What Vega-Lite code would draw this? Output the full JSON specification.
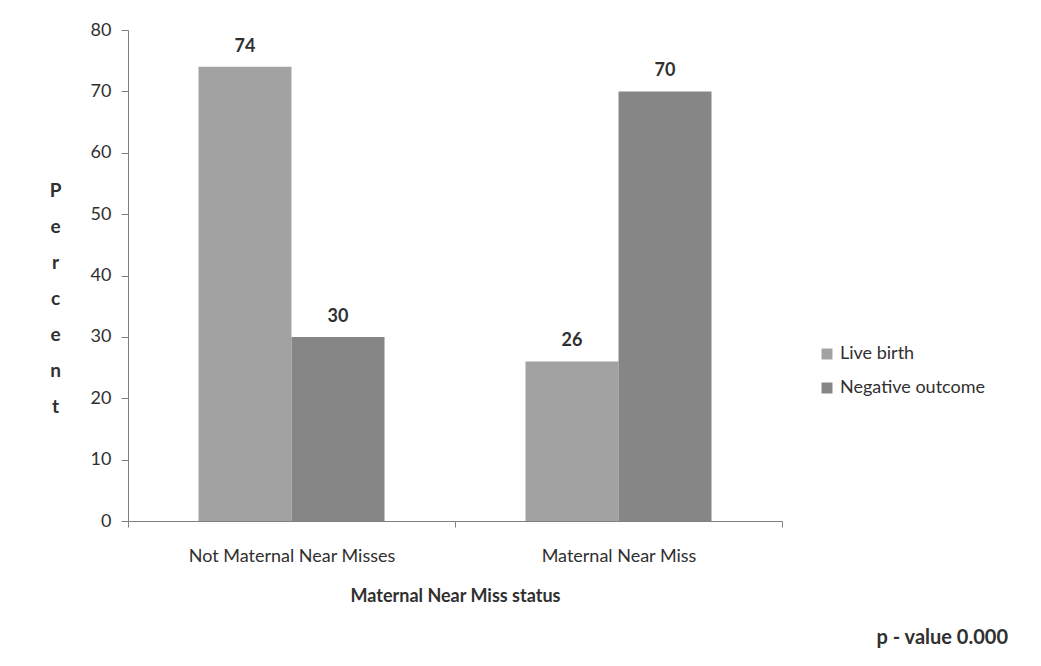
{
  "$schema": "https://vega.github.io/schema/vega-lite/v6.json",
  "autosize": "none",
  "width": 654,
  "height": 491,
  "padding": {"left": 128, "top": 30, "right": 259, "bottom": 145},
  "background": "#ffffff",
  "config": {
    "view": {"stroke": null},
    "font": "Lato",
    "text": {"font": "Lato"}
  },
  "title": {
    "text": "p - value 0.000",
    "orient": "bottom",
    "anchor": "end",
    "frame": "group",
    "dx": 226,
    "offset": 23,
    "font": "Lato",
    "fontSize": 20,
    "fontWeight": "bold",
    "color": "#303030"
  },
  "data": {
    "values": [
      {"status": "Not Maternal Near Misses", "outcome": "Live birth", "percent": 74},
      {"status": "Not Maternal Near Misses", "outcome": "Negative outcome", "percent": 30},
      {"status": "Maternal Near Miss", "outcome": "Live birth", "percent": 26},
      {"status": "Maternal Near Miss", "outcome": "Negative outcome", "percent": 70}
    ]
  },
  "encoding": {
    "x": {
      "field": "status",
      "type": "nominal",
      "sort": ["Not Maternal Near Misses", "Maternal Near Miss"],
      "scale": {"paddingInner": 0, "paddingOuter": 0},
      "axis": {
        "title": "Maternal Near Miss status",
        "labelAngle": 0,
        "labelLimit": 400,
        "tickBand": "extent",
        "tickSize": 6,
        "tickColor": "#808080",
        "domainColor": "#808080",
        "labelPadding": 20,
        "labelFontSize": 18,
        "labelColor": "#303030",
        "labelFont": "Lato",
        "titleFont": "Lato",
        "titleFontSize": 18,
        "titleFontWeight": "bold",
        "titleColor": "#303030",
        "titlePadding": 22
      }
    },
    "xOffset": {
      "field": "outcome",
      "type": "nominal",
      "sort": ["Live birth", "Negative outcome"],
      "scale": {"paddingInner": 0, "paddingOuter": 0.758}
    },
    "y": {
      "field": "percent",
      "type": "quantitative",
      "scale": {"domain": [0, 80]},
      "axis": {
        "values": [0, 10, 20, 30, 40, 50, 60, 70, 80],
        "grid": false,
        "tickSize": 7,
        "tickColor": "#808080",
        "domainColor": "#808080",
        "labelPadding": 10,
        "labelFontSize": 18,
        "labelColor": "#303030",
        "labelFont": "Lato",
        "title": ["P", "e", "r", "c", "e", "n", "t"],
        "titleAngle": 0,
        "titleFont": "Lato",
        "titleFontSize": 19,
        "titleFontWeight": "bold",
        "titleColor": "#303030",
        "titleLineHeight": 36,
        "titleAlign": "center",
        "titleBaseline": "middle",
        "titleX": -73,
        "titleY": 160
      }
    }
  },
  "layer": [
    {
      "mark": {"type": "bar"},
      "encoding": {
        "color": {
          "field": "outcome",
          "type": "nominal",
          "sort": ["Live birth", "Negative outcome"],
          "scale": {"range": ["#a2a2a2", "#868686"]},
          "legend": {
            "title": null,
            "orient": "none",
            "legendX": 690,
            "legendY": 315,
            "symbolType": "square",
            "symbolSize": 120,
            "labelFontSize": 18,
            "labelFont": "Lato",
            "labelColor": "#303030",
            "labelOffset": 4,
            "rowPadding": 16
          }
        }
      }
    },
    {
      "mark": {"type": "text", "dy": -20, "fontSize": 18, "font": "Lato", "fontWeight": "bold", "color": "#303030"},
      "encoding": {
        "text": {"field": "percent", "type": "quantitative"}
      }
    }
  ]
}
